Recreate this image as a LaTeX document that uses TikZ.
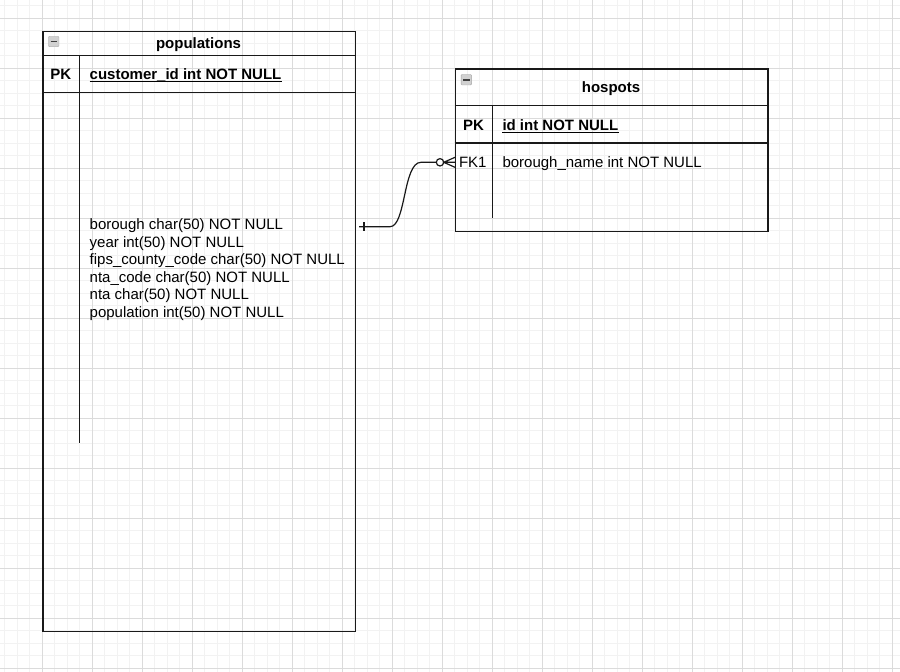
\documentclass[tikz,border=0pt]{standalone}
\usepackage{fontspec}
\setmainfont{Liberation Sans}
\begin{document}
\begin{tikzpicture}[x=1pt,y=-1pt,
	minor/.style={draw=black!5,line width=1pt},
	major/.style={draw=black!14,line width=1pt},
	tbl/.style={draw=black!90,line width=1.4pt,anchor=north west,inner sep=0},
	tline/.style={draw=black!90,line width=1.4pt},
	ttl/.style={font=\fontsize{15}{18}\selectfont\bfseries,inner sep=0},
	fld/.style={font=\fontsize{15}{17.5}\selectfont,inner sep=0},
	keyfld/.style={font=\fontsize{15}{18}\selectfont\bfseries,inner sep=0,anchor=base west},
	btn/.style={draw=black!35,fill=black!18,minimum size=10.5pt,inner sep=0,rounded corners=1pt},
	conn/.style={draw=black!90,line width=1.2pt}]
		\useasboundingbox[fill=white] (0,0) rectangle (900,672);
		\foreach \i in {0,...,71}
			\draw[minor] (4.8+12.5*\i,0) -- (4.8+12.5*\i,672);
		\foreach \i in {0,...,53}
			\draw[minor] (0,5.8+12.5*\i) -- (900,5.8+12.5*\i);
		\foreach \i in {0,...,17}
			\draw[major] (42.3+50*\i,0) -- (42.3+50*\i,672);
		\foreach \i in {0,...,13}
			\draw[major] (0,18.3+50*\i) -- (900,18.3+50*\i);
		\node[tbl,minimum width=312.5pt,minimum height=600pt] (pop) at (42.3,30.7) {};
		\draw[tline] (42.3,55.7) -- (354.8,55.7);
		\draw[tline] (42.3,92.7) -- (354.8,92.7);
		\draw[tline] (79.7,55.7) -- (79.7,442.7);
		\node[btn] (popbtn) at (53.7,41.5) {};
		\draw[black!75,line width=1.6pt] ([xshift=-3.2pt]popbtn.center) -- ([xshift=3.2pt]popbtn.center);
		\node[ttl,anchor=base] (popttl) at (198.5,48.3) {populations};
		\node[ttl,anchor=base] (poppk) at (60.8,79.8) {PK};
		\node[keyfld] (popid) at (89.5,79.8) {customer\_id int NOT NULL};
		\draw[line width=1pt] ([yshift=-2pt]popid.base west) -- ([yshift=-2pt]popid.base east);
		\node[fld,align=left,anchor=north west] (popflds) at (89.5,218.8) {borough char(50) NOT NULL\\year int(50) NOT NULL\\fips\_county\_code char(50) NOT NULL\\nta\_code char(50) NOT NULL\\nta char(50) NOT NULL\\population int(50) NOT NULL};
		\node[tbl,minimum width=312.5pt,minimum height=162.4pt] (hos) at (454.7,68.3) {};
		\draw[tline] (454.7,105.3) -- (767.2,105.3);
		\draw[tline] (454.7,143) -- (767.2,143);
		\draw[tline] (492.3,105.3) -- (492.3,217.7);
		\node[btn] (hosbtn) at (466.3,79.7) {};
		\draw[black!75,line width=1.6pt] ([xshift=-3.2pt]hosbtn.center) -- ([xshift=3.2pt]hosbtn.center);
		\node[ttl,anchor=base] (hosttl) at (611,92.8) {hospots};
		\node[ttl,anchor=base] (hospk) at (473.5,130) {PK};
		\node[keyfld] (hosid) at (502.3,130) {id int NOT NULL};
		\draw[line width=1pt] ([yshift=-2pt]hosid.base west) -- ([yshift=-2pt]hosid.base east);
		\node[fld,anchor=base] (hosfk) at (472.8,167.3) {FK1};
		\node[fld,anchor=base west] (hosname) at (502.3,167.3) {borough\_name int NOT NULL};
		\coordinate (one) at (359,226.7);
		\coordinate (many) at (455,162.3);
		\draw[conn] (one) -- ++(31,0) .. controls +(16,0) and +(-18,0) .. ([xshift=-34pt]many) -- ([xshift=-18.5pt]many);
		\draw[conn] ([xshift=-15pt]many) circle (3.7);
		\draw[conn] ([xshift=-11.3pt]many) -- ([yshift=5pt]many) ([xshift=-11.3pt]many) -- (many) ([xshift=-11.3pt]many) -- ([yshift=-5pt]many);
		\draw[conn] ([xshift=5pt]one) ++(0,-4.5) -- ++(0,9);
	\end{tikzpicture}
\end{document}
